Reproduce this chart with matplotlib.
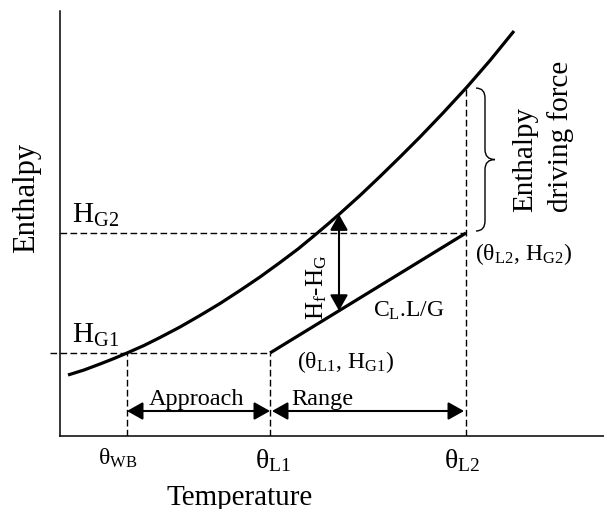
import numpy as np
import matplotlib
matplotlib.use('Agg')
import matplotlib.pyplot as plt
from matplotlib.path import Path
from matplotlib.patches import PathPatch


# diagrama entalpia x temperatura (torre de resfriamento)
# unidades arbitrarias

# curva de saturacao
temp_sat = [8, 24, 40, 54, 67, 84, 100, 120, 140, 160, 180, 200, 220, 238,
            255, 268, 280, 300, 320, 340, 360, 383, 407, 430, 454]
enth_sat = [61, 66, 72, 77.5, 83, 90.5, 98.5, 109, 120.5, 132.5, 145.5, 159, 173.5, 187,
            201, 212, 222.5, 240.5, 259.5, 279, 299, 323, 349, 375.5, 405]

theta_wb = 67
theta_l1 = 210
theta_l2 = 406
h_g1 = 83
h_g2 = 203

# linha de operacao
op_temp = [theta_l1, theta_l2]
op_enth = [h_g1, h_g2]

# posicao da seta Hf-HG
theta_df = 279

plt.rcParams['font.family'] = ['Liberation Serif', 'DejaVu Serif']
plt.rcParams['mathtext.fontset'] = 'custom'
plt.rcParams['mathtext.rm'] = 'Liberation Serif'
plt.rcParams['mathtext.it'] = 'Liberation Serif:italic'

fig = plt.figure(figsize=(6.04, 5.10), dpi=100)
ax = fig.add_axes([60 / 604, 73 / 510, 544 / 604, 425 / 510])
ax.set_xlim(0, 544)
ax.set_ylim(0, 425)
for s in ['top', 'right']:
    ax.spines[s].set_visible(False)
for s in ['left', 'bottom']:
    ax.spines[s].set_linewidth(1.1)
ax.set_xticks([])
ax.set_yticks([])

dash = (0, (4.8, 2.4))
h_l2_sat = np.interp(theta_l2, temp_sat, enth_sat)

# linhas tracejadas
ax.plot([-10, theta_l1], [h_g1, h_g1], color='black', lw=1.0, ls=dash, clip_on=False)
ax.plot([0, theta_l2], [h_g2, h_g2], color='black', lw=1.0, ls=dash)
ax.plot([theta_wb, theta_wb], [0, h_g1], color='black', lw=1.0, ls=dash)
ax.plot([theta_l1, theta_l1], [0, h_g1], color='black', lw=1.0, ls=dash)
ax.plot([theta_l2, theta_l2], [0, h_l2_sat], color='black', lw=1.0, ls=dash)

# curva e linha de operacao
ax.plot(temp_sat, enth_sat, color='black', lw=2.3, solid_capstyle='butt', solid_joinstyle='round')
ax.plot(op_temp, op_enth, color='black', lw=2.3, solid_capstyle='butt')

# setas
seta = dict(arrowstyle='<|-|>,head_length=0.8,head_width=0.45', mutation_scale=12,
            lw=1.5, color='black', shrinkA=0, shrinkB=0)
h_top = np.interp(theta_df, temp_sat, enth_sat)
h_bot = np.interp(theta_df, op_temp, op_enth)
ax.annotate('', xy=(theta_df, h_top), xytext=(theta_df, h_bot), arrowprops=seta)
ax.annotate('', xy=(theta_wb, 25), xytext=(theta_l1, 25), arrowprops=seta)
ax.annotate('', xy=(theta_l1 + 2, 25), xytext=(theta_l2 - 2, 25), arrowprops=seta)

# chave
x0, x1, xt = theta_l2 + 10, theta_l2 + 19, theta_l2 + 29
top, bot = h_l2_sat, h_g2 + 2
mid = (top + bot) / 2
r = 10
verts = [(x0, top), (x1, top), (x1, top - r),
         (x1, mid + r), (x1, mid), (xt, mid),
         (x1, mid), (x1, mid - r),
         (x1, bot + r), (x1, bot), (x0, bot)]
codes = [Path.MOVETO, Path.CURVE3, Path.CURVE3,
         Path.LINETO, Path.CURVE3, Path.CURVE3,
         Path.CURVE3, Path.CURVE3,
         Path.LINETO, Path.CURVE3, Path.CURVE3]
ax.add_patch(PathPatch(Path(verts, codes), fill=False, lw=1.0, color='black', clip_on=False))

# textos
ax.text(12, 214, r'H$_{\mathrm{G2}}$', fontsize=21, ha='left', va='baseline')
ax.text(12, 94, r'H$_{\mathrm{G1}}$', fontsize=21, ha='left', va='baseline')
ax.text(theta_wb - 9, -28, r'θ$_{\mathrm{WB}}$', fontsize=17, ha='center', va='baseline', clip_on=False)
ax.text(theta_l1 + 3, -31, r'θ$_{\mathrm{L1}}$', fontsize=20, ha='center', va='baseline', clip_on=False)
ax.text(theta_l2 - 4, -31, r'θ$_{\mathrm{L2}}$', fontsize=20, ha='center', va='baseline', clip_on=False)
ax.text(180, -68, 'Temperature', fontsize=21, ha='center', va='baseline', clip_on=False)
ax.text(-33, 239, 'Enthalpy', fontsize=22, rotation=90, ha='center', va='center', clip_on=False)
ax.text(137, 32, 'Approach', fontsize=17.5, ha='center', va='baseline')
ax.text(262, 32, 'Range', fontsize=17.5, ha='center', va='baseline')
ax.text(313, 120, r'C$_{\mathrm{L}}$.L/G', fontsize=17, ha='left', va='baseline')
ax.text(237, 69, r'(θ$_{\mathrm{L1}}$, H$_{\mathrm{G1}}$)', fontsize=17, ha='left', va='baseline')
ax.text(415, 177, r'(θ$_{\mathrm{L2}}$, H$_{\mathrm{G2}}$)', fontsize=17, ha='left', va='baseline')
ax.text(257, 150, r'H$_{\mathrm{f}}$-H$_{\mathrm{G}}$', fontsize=18, rotation=90, ha='center', va='center')
ax.text(465, 225, 'Enthalpy', fontsize=21, rotation=90, ha='center', va='bottom')
ax.text(501, 225, 'driving force', fontsize=21, rotation=90, ha='center', va='bottom')

plt.savefig('out.png', dpi=100)
